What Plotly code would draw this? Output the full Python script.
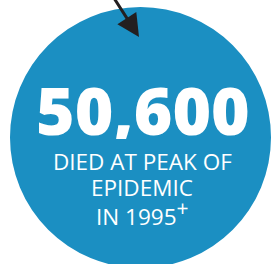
import plotly.graph_objects as go

# data
value = 50600
peak_year = 1995
caption_lines = ["DIED AT PEAK OF", "EPIDEMIC",
                 f"IN {peak_year}<sup><span style='font-size:21px'>+</span></sup>"]
caption_y = [161, 187, 213]

W, H = 271, 264
BLUE = "#1b8fc2"
DARK = "#231f20"

fig = go.Figure()

# circle
fig.add_shape(type="circle", xref="x", yref="y", x0=10, x1=271, y0=7, y1=268,
              fillcolor=BLUE, line=dict(width=0), layer="below")

# arrow
fig.add_annotation(x=139, y=37, ax=112, ay=-5, xref="x", yref="y", axref="x", ayref="y",
                   text="", showarrow=True, arrowhead=2, arrowsize=1.5, arrowwidth=3,
                   arrowcolor=DARK, standoff=0)

# big number
fig.add_annotation(x=143, y=109, xref="x", yref="y", text=f"{value:,}",
                   showarrow=False,
                   font=dict(family="Open Sans", size=66, color="white", weight=800),
                   xanchor="center", yanchor="middle", height=60)

# caption
for line, yy in zip(caption_lines, caption_y):
    fig.add_annotation(x=142, y=yy, xref="x", yref="y", text=line, height=24,
                       showarrow=False, font=dict(family="Open Sans", size=22.5, color="white"),
                       xanchor="center", yanchor="middle", align="center")

fig.update_layout(width=W, height=H, margin=dict(l=0, r=0, t=0, b=0),
                  paper_bgcolor="white", plot_bgcolor="white", showlegend=False)
fig.update_xaxes(range=[0, W], visible=False, fixedrange=True)
fig.update_yaxes(range=[H, 0], visible=False, fixedrange=True)

fig.write_html("out.html", config={"displayModeBar": False},
               post_script="document.body.style.margin='0';")
